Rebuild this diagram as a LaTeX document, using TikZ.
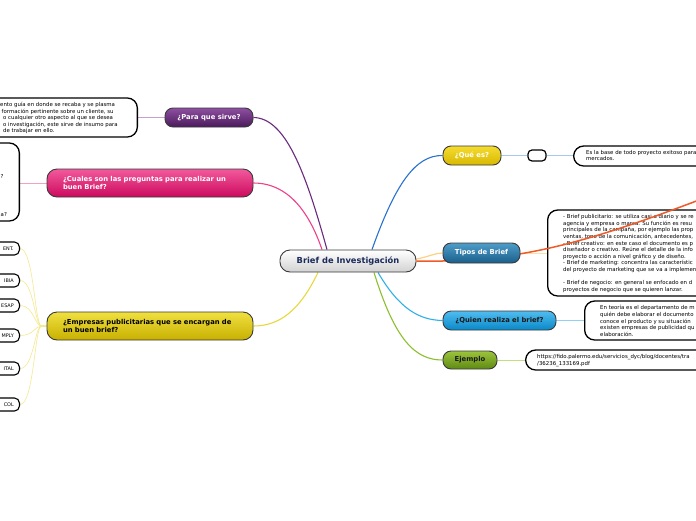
\documentclass[tikz,border=0pt]{standalone}
\usepackage{fontspec}
\setmainfont{DejaVu Sans}
\pgfdeclarelayer{bg}
\pgfsetlayers{bg,main}
\definecolor{purpT}{HTML}{8E4FA0}\definecolor{purpB}{HTML}{4A1A5C}
\definecolor{pinkT}{HTML}{F2599C}\definecolor{pinkB}{HTML}{CC0A5E}
\definecolor{yelT}{HTML}{F0E040}\definecolor{yelB}{HTML}{C8B000}
\definecolor{qyT}{HTML}{F5DC30}\definecolor{qyB}{HTML}{D8B800}
\definecolor{tipT}{HTML}{4E9DC8}\definecolor{tipB}{HTML}{1B5E8C}
\definecolor{quiT}{HTML}{50BDF0}\definecolor{quiB}{HTML}{0A88C8}
\definecolor{ejT}{HTML}{9CC43C}\definecolor{ejB}{HTML}{5E8A12}
\definecolor{cenB}{HTML}{D2D2D2}
\definecolor{navy}{HTML}{1A2A5A}
\definecolor{topicline}{HTML}{3A3A3A}
\definecolor{lpurp}{HTML}{6A2A80}\definecolor{lpink}{HTML}{F0408A}
\definecolor{lyel}{HTML}{E8D840}\definecolor{lblue}{HTML}{2A72D0}
\definecolor{lorange}{HTML}{F05A28}\definecolor{lpeach}{HTML}{FFD080}
\definecolor{lsky}{HTML}{30B0E8}\definecolor{lgreen}{HTML}{8CC030}
\definecolor{tpurp}{HTML}{C8A0D0}\definecolor{tpink}{HTML}{F5A0C0}
\definecolor{tblue}{HTML}{A8C8F0}\definecolor{tpeach}{HTML}{FFE0A0}
\definecolor{tsky}{HTML}{90D0F0}\definecolor{tgreen}{HTML}{C0E080}
\definecolor{tyel}{HTML}{F5E890}
\begin{document}
\begin{tikzpicture}[x=1pt,y=-1pt,
  topic/.style n args={3}{draw=topicline, line width=0.9pt, rounded corners=8pt,
    top color=#1, bottom color=#2, text=#3,
    font=\fontsize{6.8}{8.4}\selectfont\bfseries, inner sep=0pt},
  textbox/.style={draw=black, line width=1.3pt, rounded corners=10pt, fill=white, inner sep=0pt},
  smallbox/.style={draw=black, line width=1.1pt, rounded corners=5pt, fill=white, inner sep=0pt,
    minimum width=44pt, minimum height=13pt, anchor=east},
  txt/.style={font=\fontsize{5.4}{6.6}\selectfont, align=left, inner sep=0pt, text=black},
  boxlabel/.style={font=\fontsize{4.9}{6}\selectfont, inner sep=0pt, text=black, anchor=east},
  mainline/.style={line width=1.1pt},
  subline/.style={line width=0.9pt}
]
\useasboundingbox (0,0) rectangle (696,520);
\begin{pgfonlayer}{bg}
\fill[white] (0,0) rectangle (696,520);
\end{pgfonlayer}

% central node
\node[draw=topicline, line width=0.9pt, rounded corners=10pt, top color=white, bottom color=cenB,
  text=navy, font=\fontsize{8.3}{10}\selectfont\bfseries, inner sep=0pt,
  minimum width=136pt, minimum height=22pt] (centre) at (348,261) {Brief de Investigación};

% left topics
\node[topic={purpT}{purpB}{white}, minimum width=88pt, minimum height=19pt] (para) at (209,117.5) {¿Para que sirve?};
\node[topic={pinkT}{pinkB}{white}, minimum width=206pt, minimum height=28pt, rounded corners=10pt,
  text width=174pt, align=left] (cuales) at (150,183) {¿Cuales son las preguntas para realizar un\\buen Brief?};
\node[topic={yelT}{yelB}{black}, minimum width=206pt, minimum height=28pt, rounded corners=10pt,
  text width=174pt, align=left] (emp) at (150,326) {¿Empresas publicitarias que se encargan de\\un buen brief?};

% left text boxes
\node[textbox, minimum width=160pt, minimum height=39pt, anchor=east] (parabox) at (138,117.5) {};
\node[txt, anchor=west] (paratext) at (0,118) {ento guía en donde se recaba y se plasma\\
\hspace*{1.5pt}formación pertinente sobre un cliente, su\\
\hspace*{3pt}o cualquier otro aspecto al que se desea\\
\hspace*{3pt}o investigación, este sirve de insumo para\\
\hspace*{3pt}de trabajar en ello.};

\node[textbox, minimum width=100pt, minimum height=78pt, anchor=east] (cualbox) at (20,182) {};
\node[txt, anchor=west] (cualq1) at (0.5,176.5) {?};
\node[txt, anchor=west] (cualq2) at (0.5,214.5) {a?};

% company boxes
\node[smallbox] (e1) at (20,248.5) {};
\node[smallbox] (e2) at (20,280.5) {};
\node[smallbox] (e3) at (20,305.5) {};
\node[smallbox] (e4) at (20,335.5) {};
\node[smallbox] (e5) at (20,368.5) {};
\node[smallbox] (e6) at (20,404.5) {};
\node[boxlabel] (e1t) at (14,248.5) {ENT.};
\node[boxlabel] (e2t) at (14,280.5) {IBIA};
\node[boxlabel] (e3t) at (14,305.5) {ESAP};
\node[boxlabel] (e4t) at (14,335.5) {MPLY};
\node[boxlabel] (e5t) at (14,368.5) {ITAL};
\node[boxlabel] (e6t) at (14,404.5) {COL};

% right topics
\node[topic={qyT}{qyB}{white}, minimum width=58pt, minimum height=19pt] (que) at (472,155.5) {¿Qué es?};
\node[draw=black, line width=1.2pt, rounded corners=4pt, fill=white, minimum width=18pt, minimum height=11pt, inner sep=0pt] (qbox) at (537,155.5) {};
\node[textbox, minimum width=200pt, minimum height=20pt, anchor=west] (quebox) at (573,156) {};
\node[txt, anchor=west] (quetext) at (586,155.5) {Es la base de todo proyecto exitoso para\\mercados.};

\node[textbox, minimum width=200pt, minimum height=86pt, anchor=west] (tiposbox) at (547,253) {};
\node[txt, anchor=west] (tipostext) at (563,253.5) {- Brief publicitario: se utiliza casi a diario y se re\\
agencia y empresa o marca. Su función es resu\\
principales de la campaña, por ejemplo las prop\\
ventas, tono de la comunicación, antecedentes,\\
- Brief creativo: en este caso el documento es p\\
diseñador o creativo. Reúne el detalle de la info\\
proyecto o acción a nivel gráfico y de diseño.\\
- Brief de marketing: concentra las característic\\
del proyecto de marketing que se va a implemen\\[6.6pt]
- Brief de negocio: en general se enfocado en d\\
proyectos de negocio que se quieren lanzar.};

% orange connector to an off-page topic (over the text box, under the Tipos node)
\coordinate (offpage) at (720,192);
\draw[lorange, line width=1.5pt] (centre.east) .. controls (520,263) and (590,242) .. (offpage);

\node[topic={tipT}{tipB}{white}, minimum width=77pt, minimum height=20pt] (tipos) at (481.5,253) {Tipos de Brief};

\node[topic={quiT}{quiB}{black!90}, minimum width=113pt, minimum height=19pt] (quien) at (499.5,320.5) {¿Quien realiza el brief?};
\node[textbox, minimum width=200pt, minimum height=39pt, anchor=west] (quienbox) at (584,320.5) {};
\node[txt, anchor=west] (quientext) at (600,321) {En teoría es el departamento de m\\
quién debe elaborar el documento\\
conoce el producto y su situación\\
existen empresas de publicidad qu\\
elaboración.};

\node[topic={ejT}{ejB}{black!90}, minimum width=54pt, minimum height=18pt] (ejem) at (470,360) {Ejemplo};
\node[textbox, minimum width=220pt, minimum height=20pt, anchor=west] (ejembox) at (525,360) {};
\node[txt, anchor=west] (ejemtext) at (537,360.5) {https://fido.palermo.edu/servicios\_dyc/blog/docentes/tra\\/36236\_133169.pdf};

% connectors
\begin{pgfonlayer}{bg}
\draw[mainline, lpurp] ([xshift=-21pt]centre.north) .. controls (305,170) and (285,118) .. (para.east);
\draw[mainline, lpink] ([xshift=-26pt]centre.north) .. controls (305,200) and (280,183) .. (cuales.east);
\draw[mainline, lyel] ([xshift=-30pt]centre.south) .. controls (300,310) and (280,326) .. (emp.east);
\draw[mainline, lblue] ([xshift=24pt]centre.north) .. controls (395,185) and (415,155) .. (que.west);
\draw[mainline, lpeach, line width=1.2pt] ([yshift=2pt]centre.east) .. controls (428,257) and (435,253) .. (tipos.west);
\draw[mainline, lsky] ([xshift=30pt]centre.south) .. controls (400,310) and (420,320) .. (quien.west);
\draw[mainline, lgreen] ([xshift=26pt]centre.south) .. controls (395,340) and (415,360) .. (ejem.west);

\draw[subline, tpurp] (para.west) -- (parabox.east |- para.west);
\draw[subline, tpink] (cuales.west) -- (cualbox.east |- cuales.west);
\draw[subline, tblue] (que.east) -- (qbox.west);
\draw[subline, tblue] (qbox.east) -- (quebox.west |- qbox.east);
\draw[subline, tpeach] (tipos.east) -- (tiposbox.west |- tipos.east);
\draw[subline, tsky] (quien.east) -- (quienbox.west |- quien.east);
\draw[subline, tgreen] (ejem.east) -- (ejembox.west |- ejem.east);

\foreach \e in {e1,e2,e3,e4,e5,e6}
  \draw[line width=0.6pt, tyel] (\e.east) .. controls ([xshift=14pt]\e.east) and ([xshift=-12pt]emp.west) .. ([xshift=-5pt]emp.west) -- (emp.west);
\end{pgfonlayer}
\end{tikzpicture}
\end{document}
